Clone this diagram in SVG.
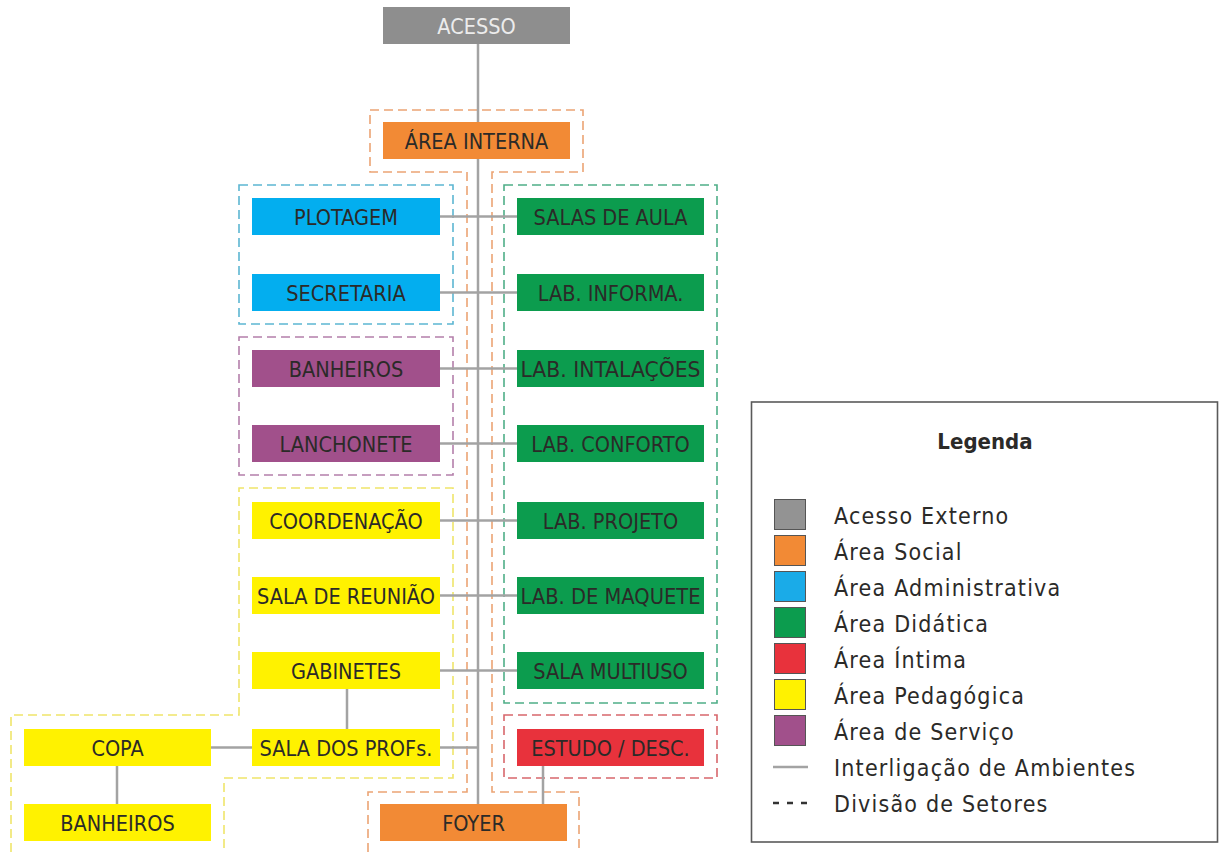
<svg xmlns="http://www.w3.org/2000/svg" width="1219" height="852" viewBox="0 0 1219 852">
  <style>
    .box text { font-family: "DejaVu Sans Condensed", "Liberation Sans Narrow", "Liberation Sans", sans-serif; font-size: 21.5px; fill: #2b2a28; text-anchor: middle; }
    .link { stroke: #a3a3a3; stroke-width: 2.5; fill: none; }
    .sector { fill: none; stroke-width: 1.6; stroke-dasharray: 9 5; }
    .leg { font-family: "DejaVu Sans Condensed", "Liberation Sans", sans-serif; font-size: 23px; letter-spacing: 1.2px; fill: #2b2a28; }
    .sw { stroke: #555; stroke-width: 1; }
  </style>

  <rect width="1219" height="852" fill="#ffffff"/>

  <!-- sector outlines -->
  <g id="sectors">
    <path class="sector" stroke="#eca474" d="M368 852 V792 H467 V172 H370 V110 H583 V172 H492 V792 H579 V852"/>
    <rect class="sector" stroke="#5cb6d2" x="239" y="185" width="214" height="139"/>
    <rect class="sector" stroke="#b47fab" x="239" y="337" width="214" height="138"/>
    <path class="sector" stroke="#efe56a" d="M11 852 V715 H239 V488 H453 V778 H224 V852"/>
    <rect class="sector" stroke="#4fae88" x="504" y="185" width="213" height="518"/>
    <rect class="sector" stroke="#d8676c" x="504" y="715" width="213" height="63"/>
  </g>

  <!-- connectors -->
  <g id="connectors">
    <line class="link" x1="478" y1="44" x2="478" y2="804"/>
    <line class="link" x1="440" y1="216.5" x2="517" y2="216.5"/>
    <line class="link" x1="440" y1="292.5" x2="517" y2="292.5"/>
    <line class="link" x1="440" y1="368.5" x2="517" y2="368.5"/>
    <line class="link" x1="440" y1="443.5" x2="517" y2="443.5"/>
    <line class="link" x1="440" y1="520.5" x2="517" y2="520.5"/>
    <line class="link" x1="440" y1="595.5" x2="517" y2="595.5"/>
    <line class="link" x1="440" y1="670.5" x2="517" y2="670.5"/>
    <line class="link" x1="440" y1="747.5" x2="478" y2="747.5"/>
    <line class="link" x1="347" y1="689" x2="347" y2="729"/>
    <line class="link" x1="211" y1="747.5" x2="252" y2="747.5"/>
    <line class="link" x1="117" y1="766" x2="117" y2="804"/>
    <line class="link" x1="543" y1="766" x2="543" y2="804"/>
  </g>

  <!-- rooms -->
  <g id="acesso" class="box"><rect x="383" y="7" width="187" height="37" fill="#8e8e8e"/><text x="476.5" y="33.5" style="fill:#ececec">ACESSO</text></g>
  <g id="area-interna" class="box"><rect x="383" y="122" width="187" height="37" fill="#f28a35"/><text x="476.5" y="148.5">ÁREA INTERNA</text></g>

  <g id="plotagem" class="box"><rect x="252" y="198" width="188" height="37" fill="#03aeef"/><text x="346" y="224.5">PLOTAGEM</text></g>
  <g id="secretaria" class="box"><rect x="252" y="274" width="188" height="37" fill="#03aeef"/><text x="346" y="300.5">SECRETARIA</text></g>
  <g id="banheiros-servico" class="box"><rect x="252" y="350" width="188" height="37" fill="#a1508b"/><text x="346" y="376.5">BANHEIROS</text></g>
  <g id="lanchonete" class="box"><rect x="252" y="425" width="188" height="37" fill="#a1508b"/><text x="346" y="451.5">LANCHONETE</text></g>
  <g id="coordenacao" class="box"><rect x="252" y="502" width="188" height="37" fill="#fff200"/><text x="346" y="528.5">COORDENAÇÃO</text></g>
  <g id="sala-reuniao" class="box"><rect x="252" y="577" width="188" height="37" fill="#fff200"/><text x="346" y="603.5">SALA DE REUNIÃO</text></g>
  <g id="gabinetes" class="box"><rect x="252" y="652" width="188" height="37" fill="#fff200"/><text x="346" y="678.5">GABINETES</text></g>
  <g id="sala-profs" class="box"><rect x="252" y="729" width="188" height="37" fill="#fff200"/><text x="346" y="755.5">SALA DOS PROFs.</text></g>
  <g id="copa" class="box"><rect x="24" y="729" width="187" height="37" fill="#fff200"/><text x="117.5" y="755.5">COPA</text></g>
  <g id="banheiros-pedagogica" class="box"><rect x="24" y="804" width="187" height="37" fill="#fff200"/><text x="117.5" y="830.5">BANHEIROS</text></g>

  <g id="salas-aula" class="box"><rect x="517" y="198" width="187" height="37" fill="#0c9c4e"/><text x="610.5" y="224.5">SALAS DE AULA</text></g>
  <g id="lab-informa" class="box"><rect x="517" y="274" width="187" height="37" fill="#0c9c4e"/><text x="610.5" y="300.5">LAB. INFORMA.</text></g>
  <g id="lab-instalacoes" class="box"><rect x="517" y="350" width="187" height="37" fill="#0c9c4e"/><text x="610.5" y="376.5" textLength="180" lengthAdjust="spacingAndGlyphs">LAB.  INTALAÇÕES</text></g>
  <g id="lab-conforto" class="box"><rect x="517" y="425" width="187" height="37" fill="#0c9c4e"/><text x="610.5" y="451.5">LAB. CONFORTO</text></g>
  <g id="lab-projeto" class="box"><rect x="517" y="502" width="187" height="37" fill="#0c9c4e"/><text x="610.5" y="528.5">LAB. PROJETO</text></g>
  <g id="lab-maquete" class="box"><rect x="517" y="577" width="187" height="37" fill="#0c9c4e"/><text x="610.5" y="603.5" textLength="180" lengthAdjust="spacingAndGlyphs">LAB. DE MAQUETE</text></g>
  <g id="sala-multiuso" class="box"><rect x="517" y="652" width="187" height="37" fill="#0c9c4e"/><text x="610.5" y="678.5">SALA MULTIUSO</text></g>
  <g id="estudo" class="box"><rect x="517" y="729" width="187" height="37" fill="#e8323c"/><text x="610.5" y="755.5">ESTUDO / DESC.</text></g>
  <g id="foyer" class="box"><rect x="380" y="804" width="187" height="37" fill="#f28a35"/><text x="473.5" y="830.5">FOYER</text></g>

  <!-- legend -->
  <g id="legend">
    <rect x="751.5" y="402" width="466" height="440" fill="#ffffff" stroke="#5a5a5a" stroke-width="1.6"/>
    <text x="985" y="449" style="font-family:'DejaVu Sans Condensed','Liberation Sans',sans-serif;font-size:22px;font-weight:bold;fill:#2b2a28;text-anchor:middle">Legenda</text>
    <rect class="sw" x="774.5" y="499.5" width="31" height="30" fill="#939393"/>
    <rect class="sw" x="774.5" y="535.5" width="31" height="30" fill="#f28a35"/>
    <rect class="sw" x="774.5" y="571.5" width="31" height="30" fill="#1aabe8"/>
    <rect class="sw" x="774.5" y="607.5" width="31" height="30" fill="#0c9c4e"/>
    <rect class="sw" x="774.5" y="643.5" width="31" height="30" fill="#e8323c"/>
    <rect class="sw" x="774.5" y="679.5" width="31" height="30" fill="#fff200"/>
    <rect class="sw" x="774.5" y="715.5" width="31" height="30" fill="#a1508b"/>
    <line x1="773" y1="767" x2="808" y2="767" stroke="#a3a3a3" stroke-width="2.5"/>
    <line x1="773" y1="803" x2="808" y2="803" stroke="#333" stroke-width="2.5" stroke-dasharray="6 8"/>
    <text class="leg" x="834" y="524">Acesso Externo</text>
    <text class="leg" x="834" y="560">Área Social</text>
    <text class="leg" x="834" y="596">Área Administrativa</text>
    <text class="leg" x="834" y="632">Área Didática</text>
    <text class="leg" x="834" y="668">Área Íntima</text>
    <text class="leg" x="834" y="704">Área Pedagógica</text>
    <text class="leg" x="834" y="740">Área de Serviço</text>
    <text class="leg" x="834" y="776">Interligação de Ambientes</text>
    <text class="leg" x="834" y="812">Divisão de Setores</text>
  </g>
</svg>
